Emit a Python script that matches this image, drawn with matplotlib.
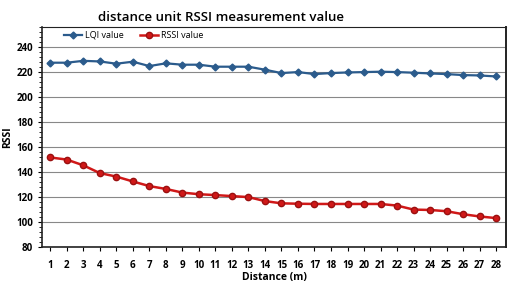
import numpy as np
import matplotlib
matplotlib.use("Agg")
import matplotlib.pyplot as plt
from matplotlib.ticker import MultipleLocator

plt.rcParams['font.family'] = ['Open Sans', 'DejaVu Sans']

distance = list(range(1, 29))
lqi = [227.5, 227.5, 229, 228.5, 226.7, 228.3, 224.8, 227, 225.9, 225.9,
       224.3, 224.3, 224.3, 221.9, 219.2, 220, 218.4, 219.2, 219.7, 220,
       220.3, 220, 219.5, 218.9, 218.4, 217.6, 217.3, 216.5]
rssi = [151.7, 150, 145.4, 139.2, 136.4, 132.5, 128.8, 126.5, 123.6, 122.3,
        121.6, 120.8, 120, 116.8, 115, 114.7, 114.5, 114.5, 114.5, 114.5,
        114.5, 113.2, 110, 109.7, 108.7, 106.3, 104.5, 103.2]

fig = plt.figure(figsize=(5.15, 2.85), dpi=100)
ax = fig.add_axes([0.0816, 0.133, 0.901, 0.772])

ax.plot(distance, lqi, color='#2B5B8C', marker='D', markersize=3.5, lw=1.6,
        label='LQI value')
ax.plot(distance, rssi, color='#D01818', marker='o', markersize=4.5,
        markeredgecolor='#9A1010', lw=1.8, label='RSSI value')

ax.set_xlim(0.5, 28.6)
ax.set_ylim(80, 256)
ax.set_xticks(distance)
ax.set_yticks(range(80, 241, 20))
ax.yaxis.set_minor_locator(MultipleLocator(4))
ax.grid(axis='y', color='#888888', lw=0.8)
ax.set_axisbelow(True)

ax.tick_params(axis='both', labelsize=7, length=3)
ax.tick_params(axis='x', pad=6)
ax.tick_params(axis='y', which='minor', length=2)
for lab in ax.get_xticklabels() + ax.get_yticklabels():
    lab.set_fontweight('bold')
for s in ax.spines.values():
    s.set_color('#222222')
ax.spines['left'].set_linewidth(1.2)
ax.spines['bottom'].set_linewidth(1.2)
ax.spines['right'].set_linewidth(1.4)

ax.set_xlabel('Distance (m)', fontsize=7.5, fontweight='bold', labelpad=1)
ax.set_ylabel('RSSI', fontsize=7.5, fontweight='bold')
ax.yaxis.set_label_coords(-0.062, 0.5)
fig.text(0.43, 0.94, 'distance unit RSSI measurement value', fontsize=9.5,
         fontweight='semibold', ha='center', va='center')

ax.legend(loc='upper left', ncol=2, frameon=False, fontsize=6.5,
          bbox_to_anchor=(0.03, 1.02), handlelength=2, handletextpad=0.3,
          columnspacing=1.8)

fig.savefig('out.png', dpi=100)
